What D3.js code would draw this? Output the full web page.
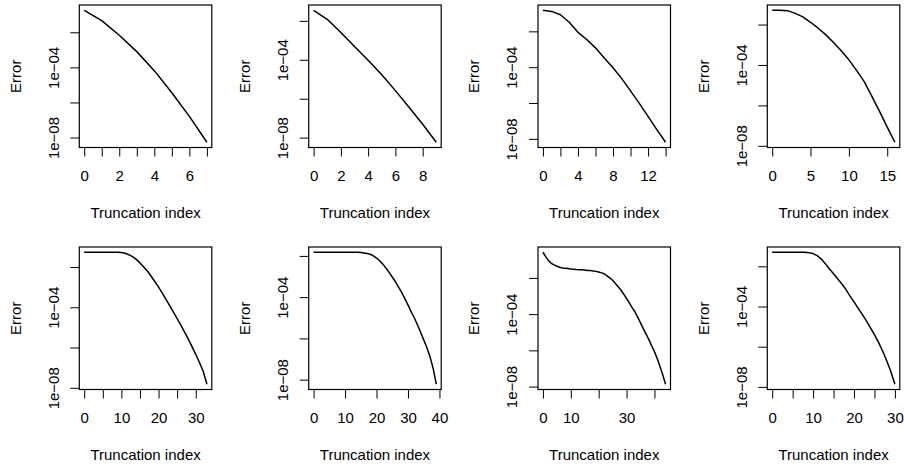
<!DOCTYPE html>
<html>
<head>
<meta charset="utf-8">
<script src="https://cdn.jsdelivr.net/npm/d3@7/dist/d3.min.js"></script>
<style>
  body { margin: 0; background: #fff; }
  text { font-family: "Liberation Sans", Arial, Helvetica, sans-serif; fill: #000; }
</style>
</head>
<body>
<script>
// truncation error for each panel, index 0..n
var err1 = [1.8e-1, 4.6e-2, 6.8e-3, 7.9e-4, 6.5e-5, 3.6e-6, 1.6e-7, 5.4e-9];
var err2 = [3.5e-2, 1.2e-2, 2.5e-3, 4.8e-4, 9.5e-5, 1.7e-5, 2.6e-6, 3.6e-7, 4.9e-8, 5.8e-9];
var err3 = [1.5e-1, 1.3e-1, 8.4e-2, 3.2e-2, 8.8e-3, 3.5e-3, 1.2e-3, 3.3e-4, 9.3e-5, 2.3e-5,
            4.8e-6, 9.5e-7, 1.8e-7, 3.3e-8, 6.5e-9];
var err4 = [5.1e-2, 5.1e-2, 4.9e-2, 3.6e-2, 2.4e-2, 1.3e-2, 6.6e-3, 3.1e-3, 1.3e-3, 5.1e-4,
            1.8e-4, 5.4e-5, 1.5e-5, 2.8e-6, 5.0e-7, 8.4e-8, 1.5e-8];
var err5 = [5.4e-2, 5.4e-2, 5.4e-2, 5.4e-2, 5.4e-2, 5.4e-2, 5.4e-2, 5.4e-2, 5.4e-2, 5.4e-2,
            5.2e-2, 4.8e-2, 4.1e-2, 3.3e-2, 2.4e-2, 1.6e-2, 1.0e-2, 6.3e-3, 3.5e-3, 1.9e-3,
            1.0e-3, 5.0e-4, 2.5e-4, 1.2e-4, 5.8e-5, 2.7e-5, 1.3e-5, 5.8e-6, 2.6e-6, 1.1e-6,
            4.6e-7, 1.8e-7, 6.6e-8, 1.5e-8];
var err6 = [1.5e-2, 1.5e-2, 1.5e-2, 1.5e-2, 1.5e-2, 1.5e-2, 1.5e-2, 1.5e-2, 1.5e-2, 1.5e-2,
            1.5e-2, 1.5e-2, 1.5e-2, 1.5e-2, 1.5e-2, 1.45e-2, 1.4e-2, 1.3e-2, 1.2e-2, 1.0e-2,
            7.9e-3, 5.8e-3, 4.0e-3, 2.6e-3, 1.6e-3, 9.5e-4, 5.6e-4, 3.1e-4, 1.7e-4, 8.5e-5,
            4.2e-5, 2.0e-5, 1.0e-5, 4.6e-6, 2.0e-6, 8.5e-7, 3.6e-7, 1.3e-7, 3.5e-8, 6.0e-9];
var err7 = [2.6e-1, 1.5e-1, 9.0e-2, 6.4e-2, 5.2e-2, 4.4e-2, 3.9e-2, 3.5e-2, 3.4e-2, 3.3e-2,
            3.1e-2, 3.0e-2, 2.9e-2, 2.85e-2, 2.8e-2, 2.75e-2, 2.6e-2, 2.55e-2, 2.4e-2, 2.3e-2,
            2.1e-2, 1.9e-2, 1.7e-2, 1.3e-2, 1.0e-2, 7.4e-3, 4.9e-3, 3.3e-3, 2.1e-3, 1.26e-3,
            7.3e-4, 4.2e-4, 2.3e-4, 1.35e-4, 6.8e-5, 3.3e-5, 1.6e-5, 7.9e-6, 3.9e-6, 1.8e-6,
            8.5e-7, 3.5e-7, 1.3e-7, 4.4e-8, 1.35e-8];
var err8 = [5.0e-2, 5.0e-2, 5.0e-2, 5.0e-2, 5.0e-2, 5.0e-2, 5.0e-2, 5.0e-2, 5.0e-2, 4.8e-2,
            4.3e-2, 3.4e-2, 2.3e-2, 1.36e-2, 7.4e-3, 4.3e-3, 2.4e-3, 1.36e-3, 7.1e-4, 3.4e-4,
            1.7e-4, 8.3e-5, 4.1e-5, 2.0e-5, 8.9e-6, 4.0e-6, 1.65e-6, 6.1e-7, 2.0e-7, 5.8e-8,
            1.36e-8];

// x axis ticks and which of them carry a label
var xTicks1 = [0, 1, 2, 3, 4, 5, 6, 7],        xLabels1 = [0, 2, 4, 6];
var xTicks2 = [0, 2, 4, 6, 8],                 xLabels2 = [0, 2, 4, 6, 8];
var xTicks3 = [0, 2, 4, 6, 8, 10, 12, 14],     xLabels3 = [0, 4, 8, 12];
var xTicks4 = [0, 5, 10, 15],                  xLabels4 = [0, 5, 10, 15];
var xTicks5 = [0, 5, 10, 15, 20, 25, 30],      xLabels5 = [0, 10, 20, 30];
var xTicks6 = [0, 10, 20, 30, 40],             xLabels6 = [0, 10, 20, 30, 40];
var xTicks7 = [0, 10, 20, 30, 40],             xLabels7 = [0, 10, 30];
var xTicks8 = [0, 5, 10, 15, 20, 25, 30],      xLabels8 = [0, 10, 20, 30];

var yTicks = [1e-2, 1e-4, 1e-6, 1e-8];
var yLabels = [1e-4, 1e-8];

var xTitle = "Truncation index", yTitle = "Error";

var panels = [
  {err: err1, xt: xTicks1, xl: xLabels1}, {err: err2, xt: xTicks2, xl: xLabels2},
  {err: err3, xt: xTicks3, xl: xLabels3}, {err: err4, xt: xTicks4, xl: xLabels4},
  {err: err5, xt: xTicks5, xl: xLabels5}, {err: err6, xt: xTicks6, xl: xLabels6},
  {err: err7, xt: xTicks7, xl: xLabels7}, {err: err8, xt: xTicks8, xl: xLabels8}
];

var W = 904, H = 466;
var colLeft = [79.3, 308.7, 538, 767.3], rowTop = [5, 247];
var boxW = 132.5, boxH = 142.5;
var FS = "15px";

function sciLabel(v) {
  var e = Math.round(Math.log10(v));
  var a = Math.abs(e);
  return "1e" + (e < 0 ? "\u2212" : "+") + (a < 10 ? "0" : "") + a;
}

var svg = d3.select("body").append("svg")
    .attr("width", W)
    .attr("height", H);

panels.forEach(function(p, i) {
  var g = svg.append("g")
      .attr("transform", "translate(" + colLeft[i % 4] + "," + rowTop[Math.floor(i / 4)] + ")");

  var n = p.err.length - 1;
  var x = d3.scaleLinear().domain([-0.04 * n, 1.04 * n]).range([0, boxW]);

  // R style: log range widened by 4% on each side
  var lo = Math.log10(d3.min(p.err)), hi = Math.log10(d3.max(p.err));
  var pad = 0.04 * (hi - lo);
  var y = d3.scaleLog()
      .domain([Math.pow(10, lo - pad), Math.pow(10, hi + pad)])
      .range([boxH, 0]);

  var line = d3.line()
      .x(function(d, k) { return x(k); })
      .y(function(d) { return y(d); });

  g.append("path")
      .datum(p.err)
      .attr("d", line)
      .attr("fill", "none")
      .attr("stroke", "#000")
      .attr("stroke-width", 1.5)
      .attr("stroke-linejoin", "round");

  // x axis
  var xa = g.append("g")
      .attr("transform", "translate(0," + boxH + ")")
      .call(d3.axisBottom(x).tickValues(p.xt).tickSizeInner(9).tickSizeOuter(0)
        .tickFormat(function(d) { return p.xl.indexOf(d) >= 0 ? d : ""; }));
  xa.attr("font-size", null).attr("font-family", null);
  xa.select(".domain").remove();
  xa.selectAll("line").attr("stroke", "#000");
  xa.selectAll("text")
      .attr("y", 28.5)
      .attr("dy", "0.35em")
      .style("font-size", FS);

  // y axis, labels parallel to the axis
  var ya = g.append("g")
      .call(d3.axisLeft(y).tickValues(yTicks).tickSizeInner(9).tickSizeOuter(0)
        .tickFormat(function(d) { return yLabels.indexOf(d) >= 0 ? sciLabel(d) : ""; }));
  ya.attr("font-size", null).attr("font-family", null);
  ya.select(".domain").remove();
  ya.selectAll("line").attr("stroke", "#000");
  ya.selectAll("text")
      .attr("x", null)
      .attr("dy", "0.35em")
      .attr("text-anchor", "middle")
      .attr("transform", "translate(-26,0) rotate(-90)")
      .style("font-size", FS);

  // box
  g.append("rect")
      .attr("width", boxW)
      .attr("height", boxH)
      .attr("fill", "none")
      .attr("stroke", "#000")
      .attr("stroke-width", 1.2);

  g.append("text")
      .attr("x", boxW / 2)
      .attr("y", boxH + 65.5)
      .attr("dy", "0.35em")
      .attr("text-anchor", "middle")
      .style("font-size", FS)
      .text(xTitle);

  g.append("text")
      .attr("transform", "translate(-64," + (boxH / 2) + ") rotate(-90)")
      .attr("dy", "0.35em")
      .attr("text-anchor", "middle")
      .style("font-size", FS)
      .text(yTitle);
});
</script>
</body>
</html>
